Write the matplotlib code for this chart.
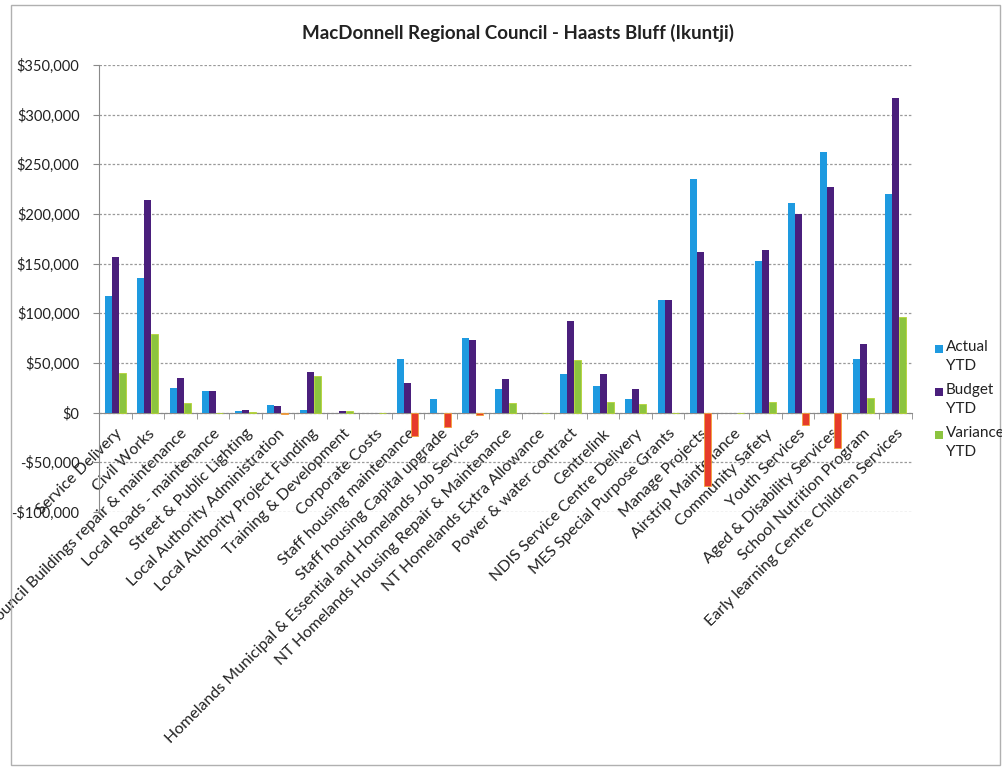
import matplotlib
matplotlib.use("Agg")
import matplotlib.pyplot as plt
import numpy as np
from matplotlib.ticker import FuncFormatter, FixedLocator
from matplotlib.patches import Rectangle

categories = [
    "Service Delivery", "Civil Works", "Council Buildings repair & maintenance",
    "Local Roads - maintenance", "Street & Public Lighting",
    "Local Authority Administration", "Local Authority Project Funding",
    "Training & Development", "Corporate Costs", "Staff housing maintenance",
    "Staff housing Capital upgrade",
    "Homelands Municipal & Essential and Homelands Job Services",
    "NT Homelands Housing Repair & Maintenance", "NT Homelands Extra Allowance",
    "Power & water contract", "Centrelink", "NDIS Service Centre Delivery",
    "MES Special Purpose Grants", "Manage Projects", "Airstrip Maintenance",
    "Community Safety", "Youth Services", "Aged & Disability Services",
    "School Nutrition Program", "Early learning Centre Children Services",
]
actual_ytd = [117000, 135600, 25200, 21800, 2000, 8000, 3000, 0, 0, 53600,
              14100, 75300, 23400, 0, 38500, 26800, 14100, 113900, 234900, 0,
              152700, 211400, 262800, 53700, 219800]
budget_ytd = [157000, 214100, 34600, 21800, 2300, 6700, 40600, 1300, 0, 30100,
              0, 72700, 33500, 0, 92100, 38500, 23400, 113900, 161400, 0,
              163800, 200000, 227500, 69100, 316400]
variance_ytd = [40300, 78900, 9400, 0, 300, -1300, 37200, 1300, 0, -23400,
                -14400, -2700, 9800, 0, 53000, 11200, 8800, 0, -73800, 0,
                10800, -12000, -35600, 15000, 96000]
series_names = ["Actual\nYTD", "Budget\nYTD", "Variance\nYTD"]
y_ticks = [-100000, -50000, 0, 50000, 100000, 150000, 200000, 250000, 300000, 350000]
title = "MacDonnell Regional Council - Haasts Bluff (Ikuntji)"

c_actual = "#1E9AE0"
c_budget = "#4A1F7C"
c_var_pos = "#8CC43F"
c_var_neg = "#E63B2B"

plt.rcParams["font.family"] = ["Lato", "DejaVu Sans"]

fig = plt.figure(figsize=(10.03, 7.69), dpi=100)
ax = fig.add_axes([99 / 1003, 1 - 512 / 769, 813 / 1003, (512 - 65) / 769])

n = len(categories)
x = np.arange(n)
w = 0.215
ax.bar(x - w, actual_ytd, w, color=c_actual, zorder=3)
ax.bar(x, budget_ytd, w, color=c_budget, zorder=3)
var_colors = [c_var_pos if v >= 0 else c_var_neg for v in variance_ytd]
var_edges = ["#B5D335" if v >= 0 else "#F2A23A" for v in variance_ytd]
ax.bar(x + w, variance_ytd, w, color=var_colors, edgecolor=var_edges,
       linewidth=0.6, zorder=3)

ax.set_xlim(-0.5, n - 0.5)
ax.set_ylim(-100000, 350000)
ax.yaxis.set_major_locator(FixedLocator(y_ticks))


def money(v, pos):
    if v < 0:
        return "-${:,.0f}".format(-v)
    return "${:,.0f}".format(v)


ax.yaxis.set_major_formatter(FuncFormatter(money))
ax.tick_params(axis="y", length=4, width=0.8, color="#8a8a8a", labelsize=10.5,
               pad=10, labelcolor="#222222", direction="out")
ax.grid(axis="y", linestyle=(0, (2, 1.5)), color="#9a9a9a", linewidth=0.9, zorder=0)

ax.spines["bottom"].set_position(("data", 0))
ax.spines["bottom"].set_color("#8a8a8a")
ax.spines["left"].set_color("#8a8a8a")
ax.spines["top"].set_visible(False)
ax.spines["right"].set_visible(False)

ax.set_xticks(x)
ax.set_xticklabels(categories, rotation=45, ha="right", rotation_mode="anchor",
                   fontsize=11.5, color="#222222")
ax.set_xticks(np.arange(n + 1) - 0.5, minor=True)
ax.tick_params(axis="x", which="major", length=0, pad=10)
ax.tick_params(axis="x", which="minor", length=4, color="#8a8a8a", direction="out")

ax.set_axisbelow(True)

fig.text(0.516, 1 - 33 / 769, title, ha="center", va="center",
         fontsize=13.5, fontweight="bold", color="#222222")

# legend
leg_x = 935 / 1003
leg_items = [(c_actual, series_names[0]), (c_budget, series_names[1]), (c_var_pos, series_names[2])]
for i, (c, lab) in enumerate(leg_items):
    yy = 1 - (349 + i * 43) / 769
    fig.patches.append(Rectangle((leg_x, yy - 4 / 769), 8 / 1003, 8 / 769,
                                 transform=fig.transFigure, facecolor=c, edgecolor="none"))
    fig.text(leg_x + 11 / 1003, yy + 9 / 769, lab, ha="left", va="top",
             fontsize=11, color="#222222", linespacing=1.45)

# outer border
fig.patches.append(Rectangle((11 / 1003, 4 / 769), 989 / 1003, 760 / 769,
                             transform=fig.transFigure, facecolor="none",
                             edgecolor="#b0b0b0", linewidth=1))

fig.savefig("out.png", dpi=100)
